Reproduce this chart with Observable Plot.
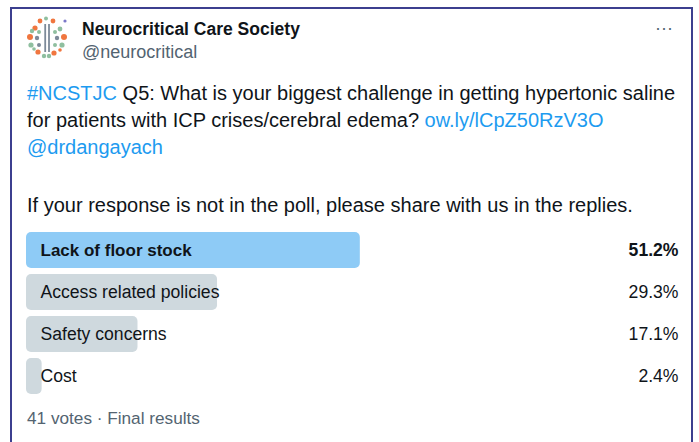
<!DOCTYPE html>
<html>
<head>
<meta charset="utf-8">
<script src="https://cdn.jsdelivr.net/npm/d3@7"></script>
<script src="https://cdn.jsdelivr.net/npm/@observablehq/plot@0.6"></script>
<style>
  html, body { margin: 0; padding: 0; background: #ffffff; }
  body { width: 699px; height: 442px; position: relative; overflow: hidden;
         font-family: "Liberation Sans", Arial, Helvetica, sans-serif; color: #0f1419; }
  .frame { position: absolute; left: 10px; top: 7px; width: 679px; height: 460px;
           border: 2px solid #3c3f8f; border-bottom: none; }
  .abs { position: absolute; white-space: nowrap; }
  .name { left: 82px; top: 19px; font-size: 17.5px; font-weight: bold; }
  .handle { left: 82px; top: 42px; font-size: 18px; color: #536471; }
  .more { left: 655px; top: 18px; font-size: 18px; color: #536471; }
  .body { left: 27px; font-size: 20px; line-height: 22px; }
  .link { color: #1d9bf0; }
  .foot { left: 27px; top: 408px; font-size: 17.2px; color: #536471; }
  #poll { position: absolute; left: 0; top: 225px; }
</style>
</head>
<body>
<div class="frame"></div>
<svg class="abs" style="left:25px;top:16px" width="46" height="44" viewBox="0 0 46 44">
  <g>
    <circle cx="5" cy="21" r="3" fill="#f0763f"/>
    <circle cx="39" cy="21" r="3" fill="#f0763f"/>
    <circle cx="10" cy="12" r="2.6" fill="#f0763f"/>
    <circle cx="15" cy="5" r="2.4" fill="#f0763f"/>
    <circle cx="28" cy="5" r="2.4" fill="#f0763f"/>
    <circle cx="13" cy="36" r="2.6" fill="#f0763f"/>
    <circle cx="29" cy="37" r="2.6" fill="#f0763f"/>
    <circle cx="6" cy="29" r="2.6" fill="#8fbf9f"/>
    <circle cx="37" cy="29" r="2.6" fill="#8fbf9f"/>
    <circle cx="7" cy="15" r="2.2" fill="#8fbf9f"/>
    <circle cx="35" cy="13" r="2.4" fill="#8fbf9f"/>
    <circle cx="19" cy="40" r="2.2" fill="#8fbf9f"/>
    <circle cx="24" cy="40" r="2.2" fill="#8fbf9f"/>
    <circle cx="21" cy="2.5" r="2" fill="#8fbf9f"/>
    <circle cx="12" cy="22" r="2.2" fill="#7d8a99"/>
    <circle cx="32" cy="22" r="2.2" fill="#7d8a99"/>
    <circle cx="14" cy="16" r="2" fill="#8fbf9f"/>
    <circle cx="30" cy="16" r="2" fill="#8fbf9f"/>
    <circle cx="14" cy="29" r="2" fill="#7d8a99"/>
    <circle cx="30" cy="29" r="2" fill="#8fbf9f"/>
    <circle cx="9" cy="33" r="1.8" fill="#8fbf9f"/>
    <circle cx="35" cy="34" r="1.8" fill="#f0763f"/>
    <circle cx="40" cy="5" r="1.6" fill="#7b78c8"/>
    <rect x="19.3" y="8" width="1.8" height="28" fill="#7d8a99"/>
    <rect x="23.1" y="8" width="1.8" height="28" fill="#7d8a99"/>
  </g>
</svg>
<div class="abs name">Neurocritical Care Society</div>
<div class="abs handle">@neurocritical</div>
<div class="abs more">&middot;&middot;&middot;</div>

<div class="abs body" style="top:82px"><span class="link">#NCSTJC</span> Q5: What is your biggest challenge in getting hypertonic saline</div>
<div class="abs body" style="top:109px">for patients with ICP crises/cerebral edema? <span class="link">ow.ly/lCpZ50RzV3O</span></div>
<div class="abs body" style="top:136px"><span class="link">@drdangayach</span></div>
<div class="abs body" style="top:194px">If your response is not in the poll, please share with us in the replies.</div>

<div id="poll"></div>
<div class="abs foot">41 votes &middot; Final results</div>

<script>
const options = ["Lack of floor stock", "Access related policies", "Safety concerns", "Cost"];
const percents = [51.2, 29.3, 17.1, 2.4];
const percentLabels = ["51.2%", "29.3%", "17.1%", "2.4%"];
const winner = "Lack of floor stock";

const rows = options.map((o, i) => ({option: o, pct: percents[i], label: percentLabels[i], win: o === winner}));
const winRows = rows.filter(d => d.win);
const otherRows = rows.filter(d => !d.win);

const labelStyle = {fontSize: 17.6, fill: "#0f1419"};

const chart = Plot.plot({
  width: 699,
  height: 176,
  marginLeft: 26,
  marginRight: 21,
  marginTop: 4,
  marginBottom: 4,
  style: {fontFamily: "'Liberation Sans', Arial, Helvetica, sans-serif", background: "transparent"},
  x: {domain: [0, 100], axis: null},
  y: {domain: options, axis: null, paddingInner: 0.143, paddingOuter: 0.0715},
  marks: [
    Plot.barX(rows, {x: "pct", y: "option", fill: d => d.win ? "#8ecbf6" : "#cfd9de", rx: 5}),
    Plot.text(winRows, {y: "option", text: "option", frameAnchor: "left", dx: 14, textAnchor: "start", fontWeight: "bold", ...labelStyle, fontSize: 17}),
    Plot.text(otherRows, {y: "option", text: "option", frameAnchor: "left", dx: 14, textAnchor: "start", ...labelStyle}),
    Plot.text(winRows, {y: "option", text: "label", frameAnchor: "right", textAnchor: "end", fontWeight: "bold", ...labelStyle}),
    Plot.text(otherRows, {y: "option", text: "label", frameAnchor: "right", textAnchor: "end", ...labelStyle})
  ]
});
document.getElementById("poll").appendChild(chart);
</script>
</body>
</html>
